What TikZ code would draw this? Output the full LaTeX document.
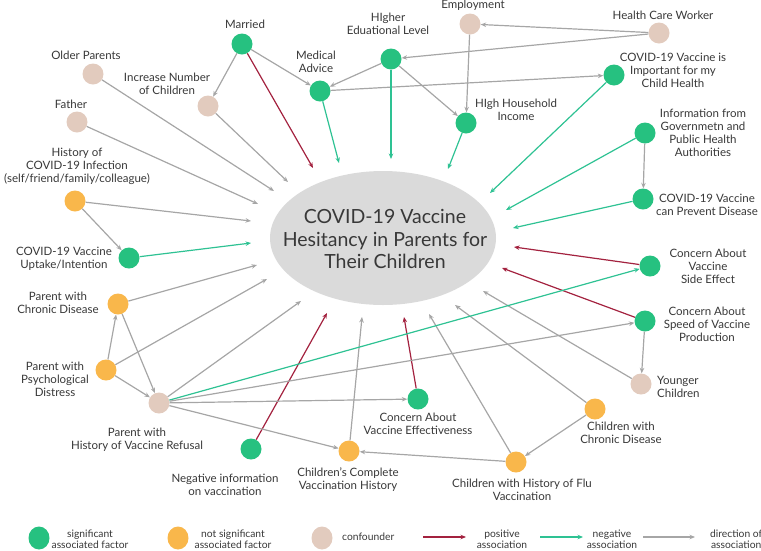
\documentclass[tikz,border=0pt]{standalone}
\usepackage{fontspec}
\setmainfont{Lato}
\usetikzlibrary{arrows.meta,shapes.geometric}
\definecolor{cgreen}{HTML}{26C180}
\definecolor{cgline}{HTML}{2EC293}
\definecolor{corange}{HTML}{F9B74B}
\definecolor{cconf}{HTML}{E2CBBE}
\definecolor{cred}{HTML}{A3223F}
\definecolor{cgray}{HTML}{A6A6A6}
\definecolor{cell}{HTML}{DADADA}
\definecolor{ctext}{HTML}{383838}
\begin{document}
\begin{tikzpicture}[x=1pt,y=-1pt,
  sig/.style={circle,fill=cgreen,minimum size=21pt,inner sep=0pt},
  nsig/.style={circle,fill=corange,minimum size=21pt,inner sep=0pt},
  conf/.style={circle,fill=cconf,minimum size=21pt,inner sep=0pt},
  lbl/.style={font=\fontsize{11.5}{13}\selectfont,text=ctext,align=center,inner sep=0pt},
  leg/.style={font=\fontsize{10.3}{11}\selectfont,text=ctext,align=center,inner sep=0pt},
  arr/.style={line width=1.2pt,-{Stealth[length=5.5pt,width=4.5pt]}},
  posarr/.style={arr,draw=cred},
  negarr/.style={arr,draw=cgline},
  dirarr/.style={arr,draw=cgray},
]
\useasboundingbox (0,0) rectangle (761,550);

% central ellipse
\node[ellipse,fill=cell,minimum width=226pt,minimum height=134pt,inner sep=0pt] (hes) at (383,238) {};
\node[font=\fontsize{19.5}{22.5}\selectfont,text=ctext,align=center,inner sep=0pt] (hestxt) at (385,239)
  {COVID-19 Vaccine\\Hesitancy in Parents for\\Their Children};

% factor nodes
\node[sig]  (mar) at (242,44) {};
\node[conf] (old) at (93,74) {};
\node[conf] (inc) at (208,106) {};
\node[conf] (fat) at (77,122) {};
\node[nsig] (his) at (75,201) {};
\node[sig]  (upt) at (129,258) {};
\node[sig]  (med) at (320,91) {};
\node[sig]  (edu) at (391,59) {};
\node[conf] (emp) at (470,24) {};
\node[conf] (hcw) at (659,33) {};
\node[sig]  (hhi) at (466,123) {};
\node[sig]  (imp) at (614,75) {};
\node[sig]  (inf) at (645,133) {};
\node[sig]  (prv) at (643,199) {};
\node[sig]  (sid) at (650,266) {};
\node[sig]  (spd) at (645,321) {};
\node[conf] (yng) at (641,384) {};
\node[nsig] (cch) at (595,409) {};
\node[nsig] (flu) at (516,462) {};
\node[sig]  (eff) at (418,399) {};
\node[nsig] (cmp) at (349,451) {};
\node[sig]  (ngi) at (251,449) {};
\node[conf] (ref) at (159,403) {};
\node[nsig] (psy) at (106,370) {};
\node[nsig] (pch) at (118,304) {};

% labels
\node[lbl] (lmar) at (245,24) {Married};
\node[lbl] (lold) at (86,55) {Older Parents};
\node[lbl] (linc) at (167,84) {Increase Number\\of Children};
\node[lbl] (lfat) at (71,104) {Father};
\node[lbl] (lhis) at (77,166) {History of\\COVID-19 Infection\\(self/friend/family/colleague)};
\node[lbl] (lupt) at (64,259) {COVID-19 Vaccine\\Uptake/Intention};
\node[lbl] (lmed) at (316,62) {Medical\\Advice};
\node[lbl] (ledu) at (388,24) {HIgher\\Eduational Level};
\node[lbl] (lemp) at (473,5) {Employment};
\node[lbl] (lhcw) at (663,15) {Health Care Worker};
\node[lbl] (lhhi) at (516,110) {HIgh Household\\Income};
\node[lbl] (limp) at (673,70) {COVID-19 Vaccine is\\Important for my\\Child Health};
\node[lbl] (linf) at (703,133) {Information from\\Governmetn and\\Public Health\\Authorities};
\node[lbl] (lprv) at (707,205) {COVID-19 Vaccine\\can Prevent Disease};
\node[lbl] (lsid) at (708,266) {Concern About\\Vaccine\\Side Effect};
\node[lbl] (lspd) at (707,324) {Concern About\\Speed of Vaccine\\Production};
\node[lbl,anchor=west,align=left] (lyng) at (657,387) {Younger\\Children};
\node[lbl] (lcch) at (621,433) {Children with\\Chronic Disease};
\node[lbl] (lflu) at (522,490) {Children with History of Flu\\Vaccination};
\node[lbl] (leff) at (418,424) {Concern About\\Vaccine Effectiveness};
\node[lbl] (lcmp) at (348,480) {Children's Complete\\Vaccination History};
\node[lbl] (lngi) at (225,485) {Negative information\\on vaccination};
\node[lbl] (lref) at (137,440) {Parent with\\History of Vaccine Refusal};
\node[lbl] (lpsy) at (55,379) {Parent with\\Psychological\\Distress};
\node[lbl] (lpch) at (58,303) {Parent with\\Chronic Disease};

% arrow end points around the ellipse
\coordinate (eold) at (274,191);
\coordinate (einc) at (288,182);
\coordinate (efat) at (258,204);
\coordinate (ehis) at (251,221);
\coordinate (eupt) at (251,243);
\coordinate (epch) at (257,265);
\coordinate (epsy) at (267,279);
\coordinate (eref) at (301,301);
\coordinate (emar) at (313,168);
\coordinate (emed) at (339,163);
\coordinate (eedu) at (391,159);
\coordinate (ehhi) at (448,169);
\coordinate (eimp) at (490,193);
\coordinate (einf) at (506,210);
\coordinate (eprv) at (513,228);
\coordinate (esid) at (514,247);
\coordinate (espd) at (502,268);
\coordinate (eyng) at (483,291);
\coordinate (ecch) at (455,305);
\coordinate (eflu) at (429,314);
\coordinate (eeff) at (404,317);
\coordinate (ecmp) at (362,317);
\coordinate (engi) at (327,313);

% connectors
\draw[dirarr] (mar) -- (inc);
\draw[dirarr] (mar) -- (med);
\draw[posarr] (mar) -- (emar);
\draw[dirarr] (old) -- (eold);
\draw[dirarr] (inc) -- (einc);
\draw[dirarr] (fat) -- (efat);
\draw[dirarr] (his) -- (ehis);
\draw[dirarr] (his) -- (upt);
\draw[negarr] (upt) -- (eupt);
\draw[negarr] (med) -- (emed);
\draw[dirarr] (med) -- (imp);
\draw[dirarr] (edu) -- (med);
\draw[negarr] (edu) -- (eedu);
\draw[dirarr] (edu) -- (hhi);
\draw[dirarr] (emp) -- (hhi);
\draw[dirarr] (hcw) -- (emp);
\draw[dirarr] (hcw) -- (edu);
\draw[negarr] (hhi) -- (ehhi);
\draw[negarr] (imp) -- (eimp);
\draw[negarr] (inf) -- (einf);
\draw[dirarr] (inf) -- (prv);
\draw[negarr] (prv) -- (eprv);
\draw[posarr] (sid) -- (esid);
\draw[posarr] (spd) -- (espd);
\draw[dirarr] (spd) -- (yng);
\draw[dirarr] (yng) -- (eyng);
\draw[dirarr] (cch) -- (ecch);
\draw[dirarr] (cch) -- (flu);
\draw[dirarr] (flu) -- (eflu);
\draw[dirarr] (flu) -- (cmp);
\draw[posarr] (eff) -- (eeff);
\draw[dirarr] (cmp) -- (ecmp);
\draw[posarr] (ngi) -- (engi);
\draw[dirarr] (ref) -- (eref);
\draw[negarr] (ref) -- (sid);
\draw[dirarr] (ref) -- (spd);
\draw[dirarr] (ref) -- (eff);
\draw[dirarr] (ref) -- (cmp);
\draw[dirarr] (psy) -- (pch);
\draw[dirarr] (psy) -- (epsy);
\draw[dirarr] (psy) -- (ref);
\draw[dirarr] (pch) -- (epch);
\draw[dirarr] (pch) -- (ref);

% legend
\node[sig,minimum width=21pt,minimum height=23pt,ellipse] (kg) at (39,538) {};
\node[leg] (tkg) at (90,539.5) {significant\\associated factor};
\node[nsig,minimum width=21pt,minimum height=23pt,ellipse] (ko) at (178,538) {};
\node[leg] (tko) at (233,539.5) {not significant\\associated factor};
\node[conf,minimum width=21pt,minimum height=23pt,ellipse] (kc) at (322,538) {};
\node[leg,anchor=west] (tkc) at (342,537) {confounder};
\coordinate (kr1) at (423,537); \coordinate (kr2) at (466,537);
\coordinate (kn1) at (540,537); \coordinate (kn2) at (583,537);
\coordinate (kd1) at (643,537); \coordinate (kd2) at (695,537);
\draw[posarr] (kr1) -- (kr2);
\draw[negarr] (kn1) -- (kn2);
\draw[dirarr] (kd1) -- (kd2);
\node[leg] (tkr) at (502,539.5) {positive\\association};
\node[leg] (tkn) at (612,539.5) {negative\\association};
\node[leg,anchor=west] (tkd) at (710,539.5) {direction of\\association};
\end{tikzpicture}
\end{document}
